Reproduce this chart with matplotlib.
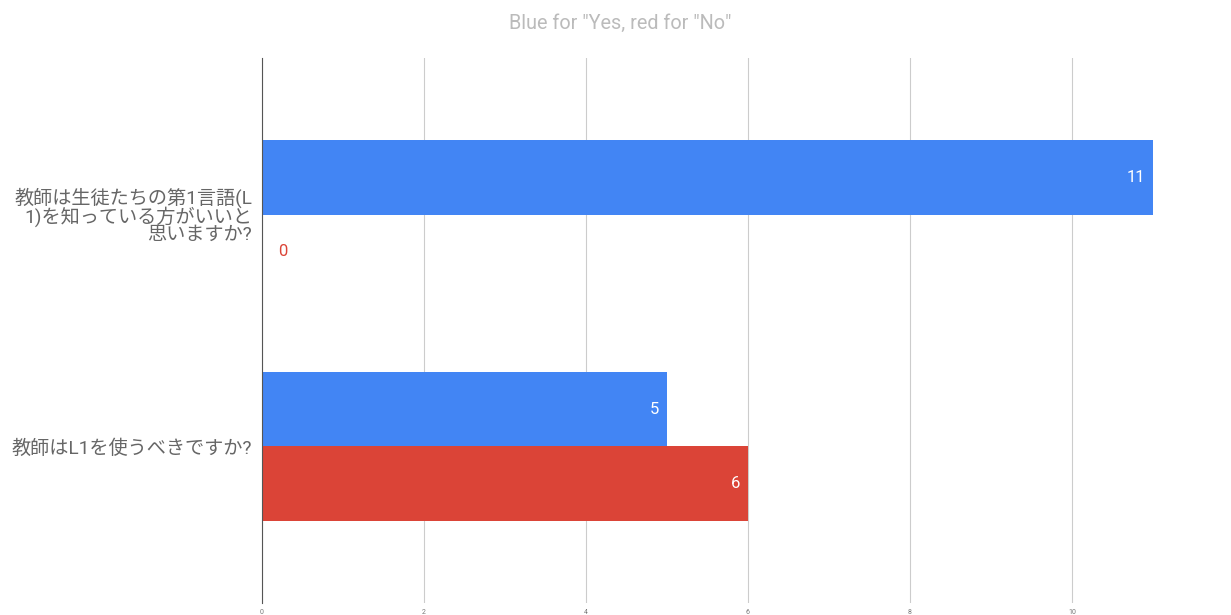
import numpy as np
import matplotlib
matplotlib.use('Agg')
import matplotlib.pyplot as plt

plt.rcParams['font.family'] = ['Roboto', 'Noto Sans CJK JP', 'DejaVu Sans']

questions = ['教師は生徒たちの第1言語(L\n1)を知っている方がいいと\n思いますか?', '教師はL1を使うべきですか?']
yes_counts = [11, 5]
no_counts = [0, 6]
title = 'Blue for "Yes, red for "No"'

blue = '#4285F4'
red = '#DB4437'

fig = plt.figure(figsize=(12.31, 6.15), dpi=100)
ax = fig.add_axes([262/1231, 12/615, 972/1231, 545/615])

y = np.arange(len(questions))
h = 0.322
ax.barh(y - h/2, yes_counts, height=h, color=blue, zorder=3)
ax.barh(y + h/2, no_counts, height=h, color=red, zorder=3)

for i in range(len(questions)):
    for val, off, col in [(yes_counts[i], -h/2, blue), (no_counts[i], h/2, red)]:
        if val > 0:
            ax.text(val - 0.1, y[i] + off, str(val), ha='right', va='center',
                    color='white', fontsize=12)
        else:
            ax.text(0.2, y[i] + off, str(val), ha='left', va='center',
                    color=col, fontsize=12)

ax.set_xlim(0, 12)
ax.set_ylim(1.675, -0.675)
ax.set_xticks(np.arange(0, 13, 2))
ax.set_yticks(y)
ax.set_yticklabels(questions, fontsize=13.8, color='#666666', ha='right',
                   linespacing=0.92)
ax.tick_params(axis='y', length=0, pad=7)
ax.tick_params(axis='x', length=0, labelsize=5, colors='#777777', pad=4)
ax.grid(axis='x', color='#cccccc', linewidth=0.8, zorder=0)
for s in ['top', 'right', 'bottom']:
    ax.spines[s].set_visible(False)
ax.spines['left'].set_color('#555555')
ax.spines['left'].set_zorder(4)

fig.text(620/1231, 1 - 23/615, title, ha='center', va='center',
         color='#bbbbbb', fontsize=14.3)

fig.savefig('out.png', dpi=100)
